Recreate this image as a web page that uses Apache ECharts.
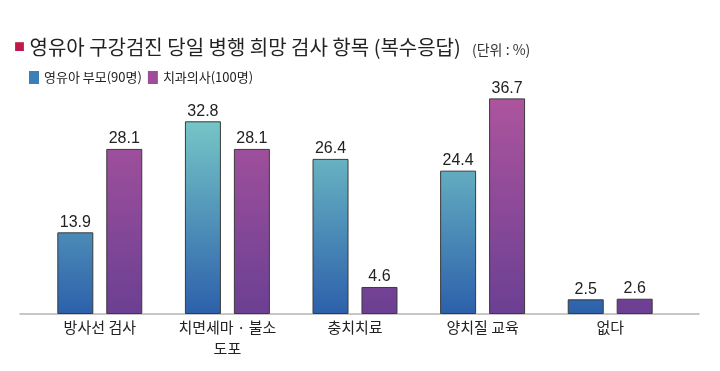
<!DOCTYPE html>
<html><head><meta charset="utf-8">
<script src="https://cdn.jsdelivr.net/npm/echarts@6/dist/echarts.min.js"></script>
<style>html,body{margin:0;padding:0;background:#fff}#c{width:720px;height:371px}</style>
</head><body><div id="c"></div>
<script>
const categories = ['방사선 검사', '치면세마 · 불소\n도포', '충치치료', '양치질 교육', '없다'];
const parents = [13.9, 32.8, 26.4, 24.4, 2.5];
const dentists = [28.1, 28.1, 4.6, 36.7, 2.6];
const seriesNames = ['영유아 부모(90명)', '치과의사(100명)'];
const titleText = '영유아 구강검진 당일 병행 희망 검사 항목 (복수응답)';
const unitText = '(단위 : %)';

const FONT = "'Noto Sans CJK KR', sans-serif";
const NUMFONT = "'Liberation Sans Narrow', 'Liberation Sans', sans-serif";
const GT = 79, GB = 314;
function grad(top, bottom) {
  return { type: 'linear', x: 0, y: GT, x2: 0, y2: GB, global: true,
    colorStops: [{ offset: 0, color: top }, { offset: 1, color: bottom }] };
}
const chart = echarts.init(document.getElementById('c'));
chart.setOption({
  animation: false,
  backgroundColor: '#fff',
  title: [
    { text: '{sq|■} ' + titleText, left: 9, top: 32,
      textStyle: { fontFamily: FONT, fontSize: 20, fontWeight: 'normal', color: '#222',
        rich: { sq: { color: '#c0184a', fontSize: 11, fontFamily: FONT, verticalAlign: 'middle' } } } },
    { text: unitText, left: 467, top: 38,
      textStyle: { fontFamily: FONT, fontSize: 14, fontWeight: 'normal', color: '#333' } }
  ],
  legend: {
    left: 24, top: 66, icon: 'rect', itemWidth: 10, itemHeight: 13, itemGap: 6,
    textStyle: { fontFamily: FONT, fontSize: 13, color: '#222' },
    data: [
      { name: seriesNames[0], itemStyle: { color: '#3b7fb9', borderWidth: 0 } },
      { name: seriesNames[1], itemStyle: { color: '#a04d99', borderWidth: 0 } }
    ]
  },
  grid: [
    { left: 36, right: 46, top: GT, bottom: 371 - GB, containLabel: false },
    { left: 20, right: 21, top: GT, bottom: 371 - GB, containLabel: false }
  ],
  xAxis: [
    { type: 'category', data: categories, gridIndex: 0,
      axisLine: { show: false }, axisTick: { show: false },
      axisLabel: { fontFamily: FONT, fontSize: 15, color: '#222', margin: 3, lineHeight: 21, interval: 0 } },
    { type: 'category', data: ['a'], gridIndex: 1,
      axisLine: { show: true, lineStyle: { color: '#b5b5b5', width: 1.5 } },
      axisTick: { show: false }, axisLabel: { show: false } }
  ],
  yAxis: [
    { type: 'value', min: 0, max: 40, gridIndex: 0, show: false, splitLine: { show: false } },
    { type: 'value', min: 0, max: 40, gridIndex: 1, show: false, splitLine: { show: false } }
  ],
  series: [
    { name: seriesNames[0], type: 'bar', data: parents, barWidth: 36, barGap: '36%',
      itemStyle: { color: grad('#86dccd', '#2c60ab'), borderColor: '#3a3a3a', borderWidth: 1 },
      label: { show: true, position: 'top', distance: 2, fontFamily: NUMFONT, fontSize: 16, color: '#222' } },
    { name: seriesNames[1], type: 'bar', data: dentists, barWidth: 36,
      itemStyle: { color: grad('#b3569e', '#6b3f93'), borderColor: '#3a3a3a', borderWidth: 1 },
      label: { show: true, position: 'top', distance: 2, fontFamily: NUMFONT, fontSize: 16, color: '#222' } }
  ]
});
</script></body></html>
